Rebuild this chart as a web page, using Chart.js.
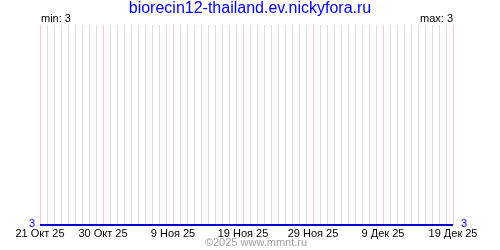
<!DOCTYPE html>
<html>
<head>
<meta charset="utf-8">
<script src="https://cdn.jsdelivr.net/npm/chart.js@4"></script>
<style>
  html, body { margin: 0; padding: 0; background: #fff; }
  #wrap { width: 500px; height: 250px; }
</style>
</head>
<body>
<div id="wrap"><canvas id="statChart" width="500" height="250"></canvas></div>
<script>
// Data: one reading per day, 21 Oct 25 .. 19 Dec 25
const chartTitle = 'biorecin12-thailand.ev.nickyfora.ru';
const values = [
    3, 3, 3, 3, 3, 3, 3, 3, 3, 3,
    3, 3, 3, 3, 3, 3, 3, 3, 3, 3,
    3, 3, 3, 3, 3, 3, 3, 3, 3, 3,
    3, 3, 3, 3, 3, 3, 3, 3, 3, 3,
    3, 3, 3, 3, 3, 3, 3, 3, 3, 3,
    3, 3, 3, 3, 3, 3, 3, 3, 3, 3
];
const tickDays = [0, 9, 19, 29, 39, 49, 59];
const tickLabels = ['21 Окт 25', '30 Окт 25', '9 Ноя 25', '19 Ноя 25', '29 Ноя 25', '9 Дек 25', '19 Дек 25'];

const minVal = Math.min(...values);
const maxVal = Math.max(...values);

// texts around the plot
const extraText = {
    id: 'extraText',
    afterDraw(chart) {
        const ctx = chart.ctx;
        const area = chart.chartArea;
        const x = chart.scales.x;
        const y = chart.scales.y;
        ctx.save();
        ctx.textBaseline = 'alphabetic';

        ctx.font = '16px "Liberation Sans", Arial, sans-serif';
        ctx.fillStyle = '#0000ff';
        ctx.textAlign = 'center';
        ctx.fillText(chartTitle, 250, 13);

        ctx.font = '11px "Liberation Sans", Arial, sans-serif';
        ctx.fillStyle = '#000';
        ctx.textAlign = 'left';
        ctx.fillText('min: ' + minVal, area.left + 1, 22);
        ctx.textAlign = 'right';
        ctx.fillText('max: ' + maxVal, area.right, 22);

        // first / last value
        ctx.fillStyle = '#0000ff';
        ctx.textAlign = 'right';
        ctx.fillText(String(values[0]), x.getPixelForValue(0) - 5, y.getPixelForValue(values[0]) + 2);
        ctx.textAlign = 'left';
        const last = values.length - 1;
        ctx.fillText(String(values[last]), x.getPixelForValue(last) + 8, y.getPixelForValue(values[last]) + 2);

        ctx.fillStyle = '#a0a0a0';
        ctx.textAlign = 'center';
        ctx.fillText('©2025 www.mmnt.ru', 256, 246);
        ctx.restore();
    }
};

const ctx = document.getElementById('statChart').getContext('2d');
new Chart(ctx, {
    type: 'line',
    data: {
        datasets: [{
            data: values.map((v, i) => ({ x: i, y: v })),
            borderColor: '#0000cc',
            borderWidth: 2,
            pointRadius: 0,
            tension: 0,
            clip: false
        }]
    },
    options: {
        responsive: false,
        animation: false,
        layout: { padding: { left: 40, right: 47, top: 25, bottom: 0 } },
        plugins: {
            legend: { display: false },
            tooltip: { enabled: false }
        },
        scales: {
            x: {
                type: 'linear',
                min: 0,
                max: values.length - 1,
                afterBuildTicks: (scale) => {
                    scale.ticks = values.map((v, i) => ({ value: i }));
                },
                afterFit: (scale) => { scale.height = 25; },
                border: { display: false },
                grid: {
                    drawTicks: false,
                    lineWidth: 1,
                    color: (c) => tickDays.includes(c.tick.value) ? '#ffc8c8' : '#dcdcdc'
                },
                ticks: {
                    autoSkip: false,
                    maxRotation: 0,
                    padding: 2,
                    color: '#000',
                    font: { family: '"Liberation Sans", Arial, sans-serif', size: 11 },
                    callback: (value) => {
                        const k = tickDays.indexOf(value);
                        return k >= 0 ? tickLabels[k] : '';
                    }
                }
            },
            y: {
                display: false,
                min: 3,
                max: 4
            }
        }
    },
    plugins: [extraText]
});
</script>
</body>
</html>
